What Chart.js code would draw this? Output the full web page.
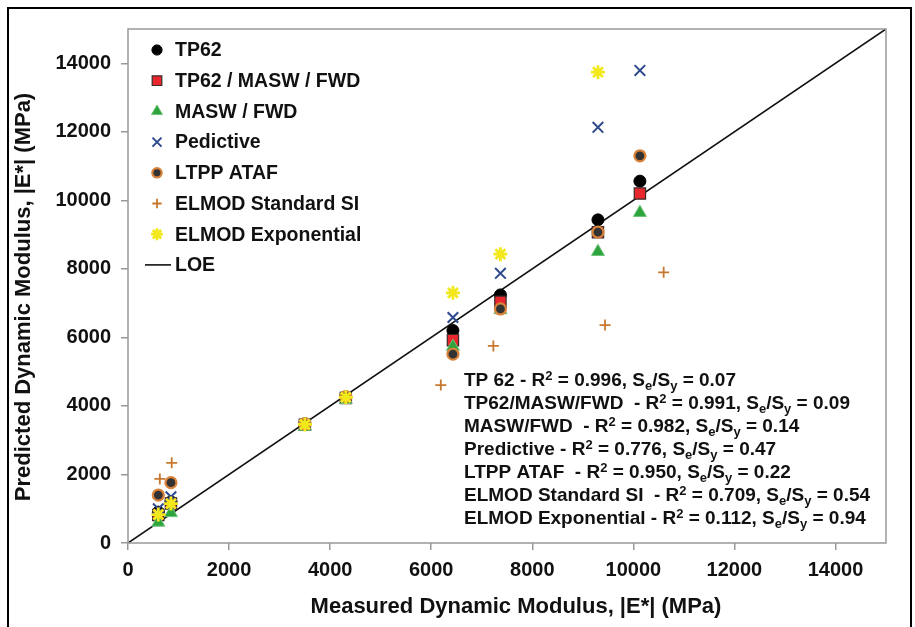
<!DOCTYPE html>
<html>
<head>
<meta charset="utf-8">
<script src="https://cdn.jsdelivr.net/npm/chart.js@4/dist/chart.umd.min.js"></script>
<style>
  html, body { margin: 0; padding: 0; background: #fff; }
  #wrap { width: 915px; height: 627px; }
</style>
</head>
<body>
<div id="wrap"><canvas id="modChart" width="915" height="627"></canvas></div>
<script>
// DATA (MPa)
const measured = [600, 850, 3500, 4310, 6430, 7370, 9300, 10130];
const tp62 = [900, 1200, 3480, 4260, 6200, 7240, 9430, 10560];
const tp62MaswFwd = [820, 1150, 3450, 4230, 5920, 7040, 9070, 10200];
const maswFwd = [600, 880, 3400, 4180, 5730, 6800, 8500, 9640];
const predictive = [1000, 1350, 3460, 4250, 6580, 7870, 12130, 13790];
const ltppAtaf = [1400, 1760, 3480, 4270, 5510, 6830, 9070, 11300];
const elmodStdX = [630, 865, 3500, 4310, 6190, 7230, 9440, 10600];
const elmodStd = [1870, 2340, 3470, 4250, 4610, 5750, 6360, 7900];
const elmodExpX = [600, 850, 3500, 4310, 6430, 7370, 9300];
const elmodExp = [830, 1150, 3460, 4250, 7300, 8430, 13740];
const loe = [0, 15000];
const axisTicks = [0, 2000, 4000, 6000, 8000, 10000, 12000, 14000];

const statNames = ["TP 62 ", "TP62/MASW/FWD  ", "MASW/FWD  ", "Predictive ", "LTPP ATAF  ", "ELMOD Standard SI  ", "ELMOD Exponential "];
const statR2 = ["0.996", "0.991", "0.982", "0.776", "0.950", "0.709", "0.112"];
const statSeSy = ["0.07", "0.09", "0.14", "0.47", "0.22", "0.54", "0.94"];

const FONT = "'Liberation Sans', Arial, sans-serif";
const TXT = "#111";

const pts = (xs, ys) => ys.map((y, i) => ({ x: xs[i], y: y }));

const datasets = [
  { label: "TP62", data: pts(measured, tp62), pointStyle: "circle", pointRadius: 6,
    backgroundColor: "#000", borderColor: "#000", borderWidth: 1, order: 7 },
  { label: "TP62 / MASW / FWD", data: pts(measured, tp62MaswFwd), pointStyle: "rect", pointRadius: 8,
    backgroundColor: "#e8262c", borderColor: "#3a2a2a", borderWidth: 1.2, order: 6 },
  { label: "MASW / FWD", data: pts(measured, maswFwd), pointStyle: "triangle", pointRadius: 7.5,
    backgroundColor: "#2ea43c", borderColor: "#6fc27a", borderWidth: 1, order: 5 },
  { label: "Pedictive", data: pts(measured, predictive), pointStyle: "crossRot", pointRadius: 7.5,
    backgroundColor: "#2e4a8c", borderColor: "#2e4a8c", borderWidth: 2, order: 4 },
  { label: "LTPP ATAF", data: pts(measured, ltppAtaf), pointStyle: "circle", pointRadius: 5.5,
    backgroundColor: "#333", borderColor: "#d9823a", borderWidth: 2.2, order: 3 },
  { label: "ELMOD Standard SI", data: pts(elmodStdX, elmodStd), pointStyle: "cross", pointRadius: 5.5,
    backgroundColor: "#c8782e", borderColor: "#c8782e", borderWidth: 1.8, order: 2 },
  { label: "ELMOD Exponential", data: pts(elmodExpX, elmodExp), pointStyle: "star", pointRadius: 7,
    backgroundColor: "#f2e81c", borderColor: "#f2e81c", borderWidth: 2.8, order: 1 },
  { label: "LOE", type: "line", data: pts(loe, loe), pointRadius: 0,
    borderColor: "#111", borderWidth: 1.6, fill: false, order: 8 }
];

// legend inside plot, border box, stats text, axis titles
const decor = {
  id: "decor",
  beforeDraw(chart) {
    const ctx = chart.ctx;
    ctx.save();
    ctx.strokeStyle = "#000";
    ctx.lineWidth = 2;
    ctx.beginPath();
    ctx.moveTo(8, 640); ctx.lineTo(8, 8); ctx.lineTo(911, 8); ctx.lineTo(911, 640);
    ctx.stroke();
    ctx.restore();
  },
  afterDraw(chart) {
    const ctx = chart.ctx;
    const a = chart.chartArea;
    ctx.save();
    ctx.strokeStyle = "#999";
    ctx.lineWidth = 1.5;
    ctx.strokeRect(a.left, a.top, a.right - a.left, a.bottom - a.top);

    // legend
    ctx.textBaseline = "middle";
    ctx.textAlign = "left";
    ctx.font = "bold 19.5px " + FONT;
    datasets.forEach((ds, i) => {
      const y = 50 + i * 30.7;
      if (ds.type === "line") {
        ctx.strokeStyle = ds.borderColor;
        ctx.lineWidth = 1.6;
        ctx.beginPath(); ctx.moveTo(145, y); ctx.lineTo(171, y); ctx.stroke();
      } else {
        ctx.fillStyle = ds.backgroundColor;
        ctx.strokeStyle = ds.borderColor;
        ctx.lineWidth = ds.borderWidth;
        Chart.helpers.drawPoint(ctx, { pointStyle: ds.pointStyle, radius: ds.pointRadius * 0.85,
          borderWidth: ds.borderWidth, rotation: 0 }, 157, y);
      }
      ctx.fillStyle = TXT;
      ctx.fillText(ds.label, 175, y + 1);
    });

    // stats block
    statNames.forEach((name, i) => {
      const y = 381 + i * 23;
      const segs = [
        [name + "- R", 0], ["2", -1], [" = " + statR2[i] + ", S", 0], ["e", 1],
        ["/S", 0], ["y", 1], [" = " + statSeSy[i], 0]
      ];
      let x = 464;
      segs.forEach(([t, k]) => {
        ctx.font = (k === 0 ? "bold 19px " : "bold 13px ") + FONT;
        const dy = k === -1 ? -5 : (k === 1 ? 5 : 0);
        ctx.fillText(t, x, y + dy);
        x += ctx.measureText(t).width;
      });
    });

    // axis titles
    ctx.font = "bold 22px " + FONT;
    ctx.textAlign = "center";
    ctx.fillText("Measured Dynamic Modulus, |E*| (MPa)", 516, 607);
    ctx.translate(24, 297);
    ctx.rotate(-Math.PI / 2);
    ctx.fillText("Predicted Dynamic Modulus, |E*| (MPa)", 0, 0);
    ctx.restore();
  }
};

const tickFont = { family: FONT, weight: "bold", size: 20 };

new Chart(document.getElementById("modChart"), {
  type: "scatter",
  data: { datasets: datasets },
  options: {
    responsive: false,
    animation: false,
    layout: { padding: { top: 29, right: 29, left: 0, bottom: 0 } },
    plugins: { legend: { display: false }, tooltip: { enabled: false } },
    scales: {
      x: {
        type: "linear", min: 0, max: 15000,
        afterBuildTicks: s => { s.ticks = axisTicks.map(v => ({ value: v })); },
        afterFit: s => { s.height = 84; },
        grid: { drawOnChartArea: false, tickLength: 7, color: "#999", lineWidth: 1.5 },
        border: { display: false },
        ticks: { font: tickFont, color: TXT, padding: 8, maxRotation: 0, callback: v => String(v) }
      },
      y: {
        type: "linear", min: 0, max: 15000,
        afterBuildTicks: s => { s.ticks = axisTicks.map(v => ({ value: v })); },
        afterFit: s => { s.width = 128; },
        grid: { drawOnChartArea: false, tickLength: 7, color: "#999", lineWidth: 1.5 },
        border: { display: false },
        ticks: { font: tickFont, color: TXT, padding: 10, callback: v => String(v) }
      }
    }
  },
  plugins: [decor]
});
</script>
</body>
</html>
